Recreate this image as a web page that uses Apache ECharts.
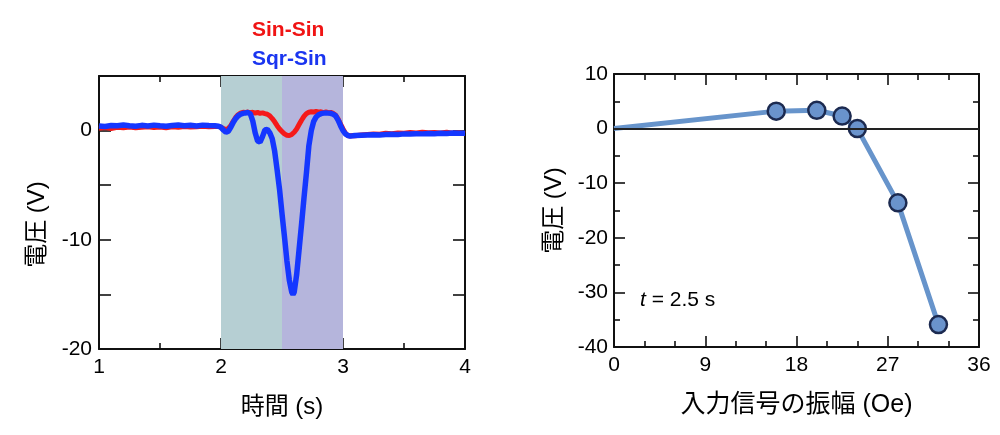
<!DOCTYPE html>
<html>
<head>
<meta charset="utf-8">
<script src="https://cdn.jsdelivr.net/npm/echarts@6/dist/echarts.min.js"></script>
<style>
html,body{margin:0;padding:0;background:#fff;}
#c{width:1000px;height:435px;}
</style>
</head>
<body>
<div id="c"></div>
<script>
// ---- Left chart data: time (s) and voltage (V) ----
const timeS = [
  1.00,1.05,1.10,1.15,1.20,1.25,1.30,1.35,1.40,1.45,1.50,1.55,1.60,1.65,1.70,1.75,1.80,1.85,1.90,1.95,
  1.98,2.00,2.02,2.04,2.06,2.08,2.10,2.12,2.14,2.16,2.18,2.20,2.22,2.24,2.26,2.28,2.30,2.32,2.34,2.36,
  2.38,2.40,2.42,2.44,2.46,2.48,2.50,2.52,2.54,2.56,2.58,2.59,2.60,2.62,2.64,2.66,2.68,2.70,2.72,2.74,
  2.76,2.78,2.80,2.82,2.84,2.86,2.88,2.90,2.92,2.94,2.96,2.98,3.00,3.02,3.04,3.06,3.08,3.10,
  3.15,3.20,3.25,3.30,3.35,3.40,3.45,3.50,3.55,3.60,3.65,3.70,3.75,3.80,3.85,3.90,3.95,4.00
];
const sinSin = [
  0.22,0.28,0.20,0.30,0.26,0.33,0.25,0.30,0.36,0.28,0.33,0.27,0.35,0.30,0.38,0.32,0.36,0.40,0.35,0.38,
  0.38,0.30,0.18,0.10,0.20,0.45,0.85,1.20,1.45,1.60,1.68,1.65,1.70,1.62,1.68,1.60,1.66,1.58,1.62,1.55,
  1.50,1.35,1.10,0.80,0.45,0.15,-0.10,-0.30,-0.42,-0.45,-0.35,-0.25,-0.15,0.15,0.55,0.95,1.30,1.55,1.68,1.72,
  1.70,1.75,1.68,1.72,1.65,1.70,1.64,1.66,1.58,1.40,1.05,0.60,0.15,-0.25,-0.45,-0.50,-0.45,-0.48,
  -0.40,-0.35,-0.30,-0.33,-0.25,-0.28,-0.22,-0.25,-0.18,-0.22,-0.15,-0.20,-0.18,-0.22,-0.16,-0.24,-0.20,-0.28
];
const sqrSin = [
  0.42,0.38,0.47,0.44,0.52,0.45,0.40,0.48,0.43,0.50,0.44,0.39,0.46,0.51,0.45,0.48,0.42,0.50,0.46,0.44,
  0.40,0.30,0.05,-0.15,-0.05,0.30,0.75,1.10,1.35,1.50,1.58,1.62,1.65,1.55,0.90,-0.20,-0.95,-1.05,-0.55,0.05,
  0.10,-0.20,-0.75,-1.90,-3.60,-5.40,-7.60,-9.70,-11.90,-13.70,-14.80,-15.00,-14.80,-13.20,-10.90,-8.60,-6.20,-3.90,-1.40,0.00,
  0.85,1.25,1.45,1.55,1.60,1.62,1.60,1.58,1.50,1.35,0.95,0.45,0.00,-0.30,-0.45,-0.50,-0.48,-0.45,
  -0.42,-0.40,-0.38,-0.40,-0.35,-0.33,-0.36,-0.30,-0.32,-0.28,-0.30,-0.26,-0.28,-0.24,-0.27,-0.22,-0.25,-0.24
];
const shadeBands = [[2.0, 2.5], [2.5, 3.0]];
const seriesNames = ['Sin-Sin', 'Sqr-Sin'];

// ---- Right chart data: input amplitude (Oe) vs voltage (V) at t = 2.5 s ----
const amplitudeOe = [0, 16, 20, 22.5, 24, 28, 32];
const voltageV   = [0, 3.2, 3.35, 2.3, 0.0, -13.6, -35.9];

// ---- Styles ----
const FONT = '"Liberation Sans", "Noto Sans CJK JP", sans-serif';
const BLACK = '#111';
const LABEL = { color: '#000', fontSize: 21, fontFamily: FONT };
const NAME = { color: '#000', fontSize: 24, fontFamily: FONT };
const bandColors = ['#b6cfd3', '#b5b5dc'];

function axisBase(extra) {
  return Object.assign({
    type: 'value',
    axisLine: { show: true, onZero: false, lineStyle: { color: BLACK, width: 2 } },
    splitLine: { show: false },
  }, extra);
}

const chart = echarts.init(document.getElementById('c'), null, { renderer: 'canvas' });

const leftXCommon = {
  gridIndex: 0, min: 1, max: 4, interval: 1,
  axisTick: { show: true, inside: true, length: 11, lineStyle: { color: BLACK, width: 1.6 } },
  minorTick: { show: true, splitNumber: 2, length: 6, lineStyle: { color: BLACK, width: 1.6 } }
};
const leftYCommon = {
  gridIndex: 0, min: -20, max: 5, interval: 5,
  axisTick: { show: true, inside: true, length: 12, lineStyle: { color: BLACK, width: 1.6 } }
};
const rightXCommon = {
  gridIndex: 1, min: 0, max: 36, interval: 9,
  axisTick: { show: true, inside: true, length: 11, lineStyle: { color: BLACK, width: 1.6 } },
  minorTick: { show: true, splitNumber: 3, length: 6, lineStyle: { color: BLACK, width: 1.6 } }
};
const rightYCommon = {
  gridIndex: 1, min: -40, max: 10, interval: 10,
  axisTick: { show: true, inside: true, length: 11, lineStyle: { color: BLACK, width: 1.6 } },
  minorTick: { show: true, splitNumber: 2, length: 6, lineStyle: { color: BLACK, width: 1.6 } }
};

const option = {
  animation: false,
  backgroundColor: '#fff',
  textStyle: { fontFamily: FONT },
  grid: [
    { left: 99, right: 535, top: 76, bottom: 86 },
    { left: 614, right: 21, top: 74, bottom: 88 }
  ],
  legend: {
    data: [
      { name: seriesNames[0], textStyle: { color: '#f01414' } },
      { name: seriesNames[1], textStyle: { color: '#1a35f0' } }
    ],
    orient: 'vertical',
    left: 242, top: 15,
    itemWidth: 0, itemHeight: 0, itemGap: 8,
    icon: 'none',
    selectedMode: false,
    textStyle: { fontSize: 21, fontWeight: 'bold', fontFamily: FONT, padding: 0 }
  },
  xAxis: [
    axisBase(Object.assign({}, leftXCommon, {
      position: 'bottom',
      axisLabel: Object.assign({ margin: 8 }, LABEL),
      name: '時間 (s)', nameLocation: 'middle', nameGap: 46, nameTextStyle: NAME
    })),
    axisBase(Object.assign({}, leftXCommon, { position: 'top', axisLabel: { show: false } })),
    axisBase(Object.assign({}, rightXCommon, {
      position: 'bottom',
      axisLabel: Object.assign({ margin: 8 }, LABEL),
      name: '入力信号の振幅 (Oe)', nameLocation: 'middle', nameGap: 46,
      nameTextStyle: Object.assign({}, NAME, { fontSize: 25 })
    })),
    axisBase(Object.assign({}, rightXCommon, { position: 'top', axisLabel: { show: false } }))
  ],
  yAxis: [
    axisBase(Object.assign({}, leftYCommon, {
      position: 'left',
      axisLabel: Object.assign({ margin: 7, formatter: v => (v % 10 === 0 ? String(v) : '') }, LABEL),
      name: '電圧 (V)', nameLocation: 'middle', nameGap: 50,
      nameTextStyle: Object.assign({}, NAME, { padding: [0, 24, 0, 0] })
    })),
    axisBase(Object.assign({}, leftYCommon, { position: 'right', axisLabel: { show: false } })),
    axisBase(Object.assign({}, rightYCommon, {
      position: 'left',
      axisLabel: Object.assign({ margin: 6 }, LABEL),
      name: '電圧 (V)', nameLocation: 'middle', nameGap: 48, nameTextStyle: NAME
    })),
    axisBase(Object.assign({}, rightYCommon, { position: 'right', axisLabel: { show: false } }))
  ],
  series: [
    {
      name: seriesNames[0], type: 'line', xAxisIndex: 0, yAxisIndex: 0,
      data: timeS.map((t, i) => [t, sinSin[i]]),
      showSymbol: false, symbol: 'none',
      lineStyle: { color: '#f51a1a', width: 5 },
      itemStyle: { color: '#f51a1a' },
      z: 3,
      markArea: {
        silent: true,
        data: shadeBands.map((b, i) => [
          { xAxis: b[0], itemStyle: { color: bandColors[i], opacity: 1 } },
          { xAxis: b[1] }
        ])
      }
    },
    {
      name: seriesNames[1], type: 'line', xAxisIndex: 0, yAxisIndex: 0,
      data: timeS.map((t, i) => [t, sqrSin[i]]),
      showSymbol: false, symbol: 'none',
      lineStyle: { color: '#1537ff', width: 5.5 },
      itemStyle: { color: '#1537ff' },
      z: 4
    },
    {
      name: 'amp', type: 'line', xAxisIndex: 2, yAxisIndex: 2,
      data: amplitudeOe.map((a, i) => i === 0
        ? { value: [a, voltageV[i]], symbol: 'none' }
        : [a, voltageV[i]]),
      symbol: 'circle', symbolSize: 17, showAllSymbol: true,
      lineStyle: { color: '#6794cb', width: 5 },
      itemStyle: { color: '#6a93cc', borderColor: '#1c2a50', borderWidth: 2.5 },
      z: 4,
      markLine: {
        silent: true, symbol: ['none', 'none'],
        label: { show: false },
        lineStyle: { color: '#222', width: 1.8, type: 'solid' },
        data: [{ yAxis: 0 }]
      }
    }
  ],
  graphic: [
    {
      type: 'text', left: 640, top: 290,
      style: {
        text: '{i|t}{n| = 2.5 s}',
        rich: {
          i: { fontStyle: 'italic', fontSize: 21, fontFamily: FONT, fill: '#000' },
          n: { fontSize: 21, fontFamily: FONT, fill: '#000' }
        }
      }
    }
  ]
};
chart.setOption(option);
</script>
</body>
</html>
